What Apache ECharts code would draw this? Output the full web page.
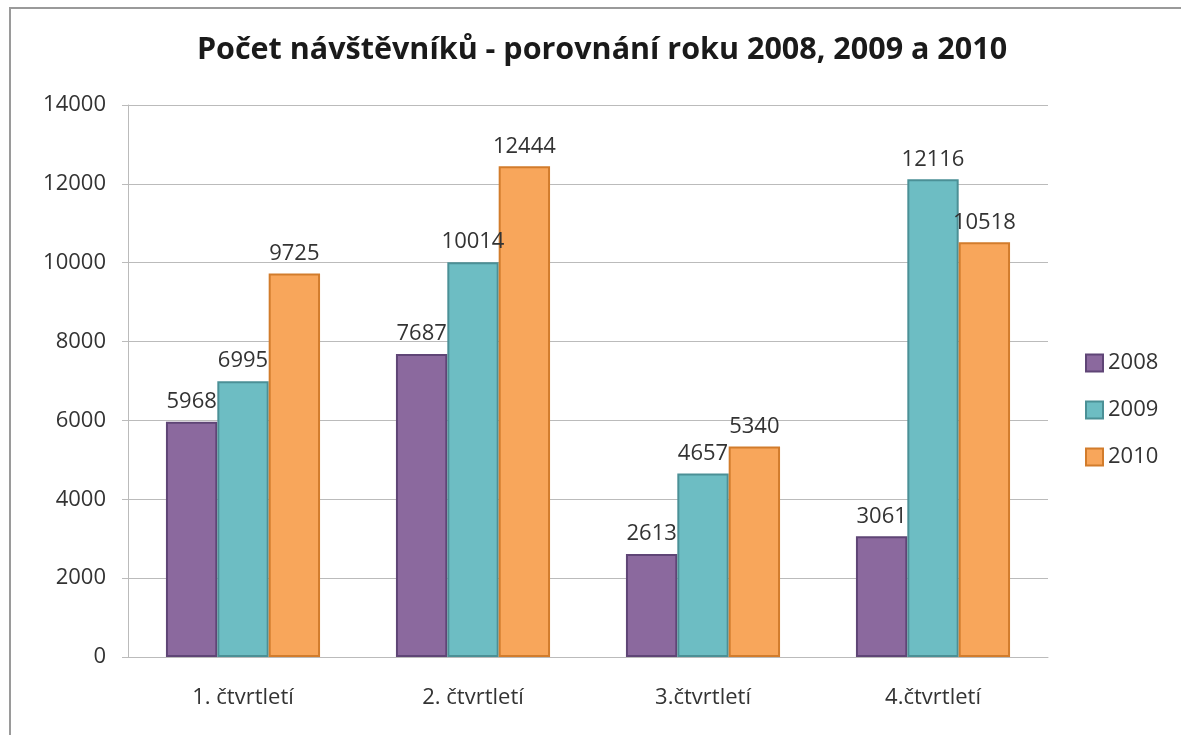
<!DOCTYPE html>
<html><head><meta charset="utf-8">
<script src="https://cdn.jsdelivr.net/npm/echarts@6/dist/echarts.min.js"></script>
<style>html,body{margin:0;padding:0;background:#fff}#c{width:1181px;height:735px}</style>
</head><body><div id="c"></div>
<script>
const categories = ['1. čtvrtletí', '2. čtvrtletí', '3.čtvrtletí', '4.čtvrtletí'];
const seriesNames = ['2008', '2009', '2010'];
const v2008 = [5968, 7687, 2613, 3061];
const v2009 = [6995, 10014, 4657, 12116];
const v2010 = [9725, 12444, 5340, 10518];
const yTicks = [0, 2000, 4000, 6000, 8000, 10000, 12000, 14000];

const fills = ['#8B699E', '#6DBDC3', '#F8A65B'];
const borders = ['#5F4576', '#4B9096', '#D27C2C'];
const font = '"Open Sans", "DejaVu Sans", sans-serif';
const data = [v2008, v2009, v2010];

const chart = echarts.init(document.getElementById('c'));
chart.setOption({
  animation: false,
  backgroundColor: '#fff',
  graphic: [{type:'rect', shape:{x:10, y:8, width:1180, height:740}, style:{fill:'none', stroke:'#9a9a9a', lineWidth:2}}],
  title: {text: 'Počet návštěvníků - porovnání roku 2008, 2009 a 2010', left: 597, textAlign:'center', top: 30,
    textStyle: {fontFamily: font, fontSize: 30.5, fontWeight: 'bold', color: '#1a1a1a'}},
  legend: {orient:'vertical', left: 1080, top: 347, itemGap: 25, itemWidth: 17, itemHeight: 17,
    icon: 'rect', data: seriesNames, textStyle:{fontFamily: font, fontSize: 22, color:'#333'}},
  grid: {left: 128, right: 133, top: 105, bottom: 78},
  xAxis: {type:'category', data: categories,
    axisLine:{lineStyle:{color:'#bbb'}}, axisTick:{show:false},
    axisLabel:{fontFamily: font, fontSize: 22, color:'#333', margin: 30}},
  yAxis: {type:'value', min: 0, max: 14000, interval: 2000,
    axisLine:{show:true, lineStyle:{color:'#bbb'}}, axisTick:{show:true, length:6, lineStyle:{color:'#bbb'}},
    splitLine:{lineStyle:{color:'#bbb'}},
    axisLabel:{fontFamily: font, fontSize: 22, color:'#333', margin: 22, formatter: v => String(v)}},
  series: seriesNames.map((n, i) => ({
    name: n, type: 'bar', data: data[i], barGap: '0%', barCategoryGap: '33%',
    itemStyle: {color: fills[i], borderColor: borders[i], borderWidth: 2},
    label: {show: true, position: 'top', distance: 9, fontFamily: font, fontSize: 22, color: '#333'}
  }))
});
</script></body></html>
